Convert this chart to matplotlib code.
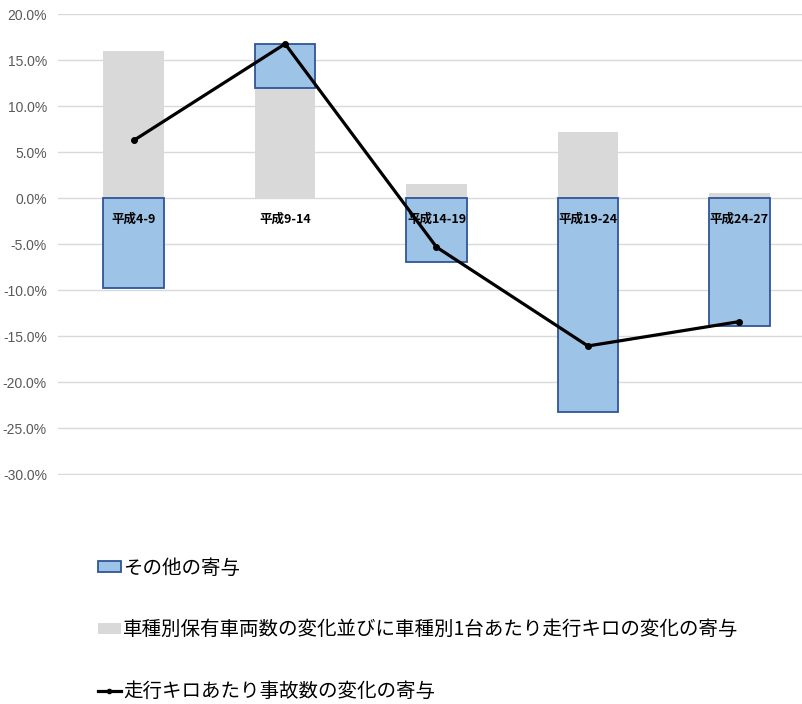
import matplotlib.pyplot as plt
import numpy as np
from matplotlib.ticker import FuncFormatter
from matplotlib.lines import Line2D
from matplotlib.patches import Patch

plt.rcParams['font.family'] = ['Liberation Sans', 'Noto Sans CJK JP', 'DejaVu Sans']

periods = ['平成4-9', '平成9-14', '平成14-19', '平成19-24', '平成24-27']
# 寄与 (%)
kisyu = [16.0, 12.0, 1.6, 7.2, 0.55]          # 車種別保有車両数・1台あたり走行キロ
sonota = [-9.7, 4.8, -6.95, -23.2, -13.9]     # その他
jiko = [6.3, 16.8, -5.3, -16.05, -13.4]       # 走行キロあたり事故数

lbl_sonota = 'その他の寄与'
lbl_kisyu = '車種別保有車両数の変化並びに車種別1台あたり走行キロの変化の寄与'
lbl_jiko = '走行キロあたり事故数の変化の寄与'

W, H = 803, 704
fig = plt.figure(figsize=(W / 100, H / 100), dpi=100)
ax = fig.add_axes([58 / W, (H - 475) / H, 757 / W, 461 / H])

x = np.arange(len(periods))
bw = 0.40
blue_bottom = [k if s > 0 else 0 for k, s in zip(kisyu, sonota)]

ax.bar(x, kisyu, width=bw, color='#d9d9d9', zorder=2)
ax.bar(x, sonota, width=bw, bottom=blue_bottom, color='#9dc3e6',
       edgecolor='#2f5597', linewidth=1.3, zorder=3)
ax.plot(x, jiko, color='black', linewidth=2.3, marker='o', markersize=4,
        zorder=4)

ax.set_ylim(-30.08, 20.05)
ax.set_yticks(np.arange(-30, 21, 5))
ax.yaxis.set_major_formatter(FuncFormatter(lambda v, p: f'{v:.1f}%'))
ax.set_xlim(-0.5, 4.5)
ax.grid(axis='y', color='#d9d9d9', linewidth=1, zorder=0)

for s in ['top', 'right', 'left', 'bottom']:
    ax.spines[s].set_visible(False)

# カテゴリラベルはゼロ線のすぐ下（棒の上に重ねる）
ax.set_xticks([])
for i, p in enumerate(periods):
    ax.annotate(p, xy=(i, 0), xytext=(0, -14), textcoords='offset pixels',
                ha='center', va='top', fontsize=9, fontweight='bold',
                family=['Noto Sans CJK JP', 'DejaVu Sans'], zorder=5)

ax.tick_params(axis='y', length=0, labelsize=10, labelcolor='#595959', pad=8)

handles = [
    Patch(facecolor='#9dc3e6', edgecolor='#2f5597', linewidth=1.3),
    Patch(facecolor='#d9d9d9', edgecolor='none'),
    Line2D([0], [0], color='black', linewidth=2.3, marker='o', markersize=3),
]
fig.legend(handles, [lbl_sonota, lbl_kisyu, lbl_jiko],
           loc='upper left', bbox_to_anchor=(82 / W, (H - 542) / H),
           frameon=False, labelspacing=2.1, borderpad=0.3,
           handlelength=1.2, handleheight=0.45, handletextpad=0.1,
           prop={'family': ['Noto Sans CJK JP', 'DejaVu Sans'], 'size': 14})

plt.savefig('out.png', dpi=100)
